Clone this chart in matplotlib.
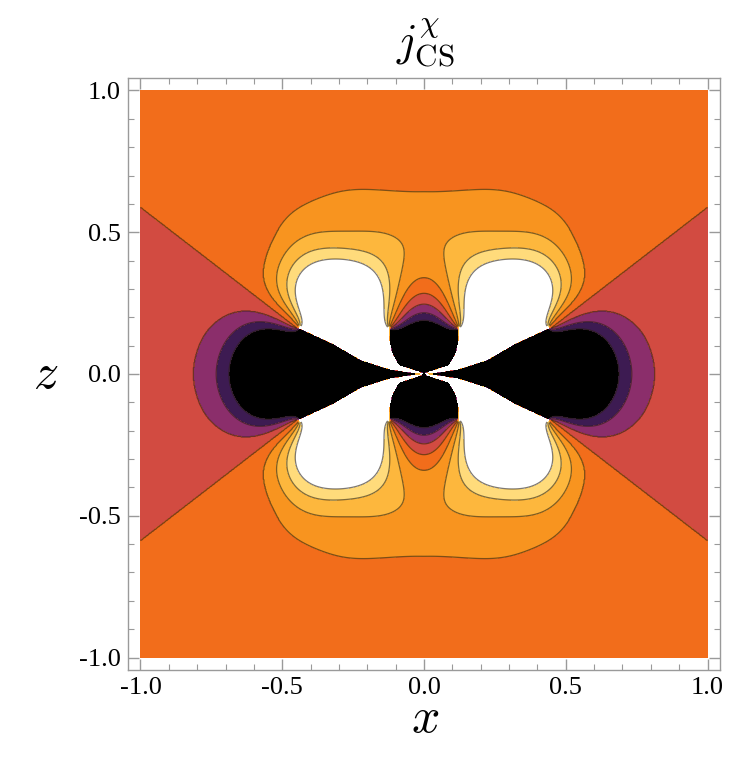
import numpy as np
import matplotlib
matplotlib.use("Agg")
import matplotlib.pyplot as plt

plt.rcParams["mathtext.fontset"] = "cm"
plt.rcParams["font.family"] = ["Liberation Serif", "DejaVu Serif"]
plt.rcParams["contour.negative_linestyle"] = "solid"

# contour values and the band colours between them
levels = [-3, -2, -1, 0, 1, 2, 3, 4]
band_colors = ["#000000", "#3d1b52", "#8b2e6b", "#d24b41", "#f26d1b",
               "#f8941f", "#fdb73d", "#ffdb7b", "#ffffff"]

# points where all contours meet (first quadrant) and the cuts ending there
p1 = (0.44, 0.163)
p2 = (0.123, 0.160)
cut1 = [(0.0, 0.0), (0.12, 0.018), (0.22, 0.05), (0.32, 0.108), p1]
cut2 = [(0.0, 0.0), (0.09, 0.03), (0.115, 0.075), (0.123, 0.118), p2]
# straight zero line of the outer wedge: |z| = wedge_slope * |x| + wedge_icpt
wedge_slope = 0.772
wedge_icpt = -0.184

# samples, first quadrant
lev_m3_x = [0.688, 0.678, 0.655, 0.61, 0.55, 0.49, 0.00, 0.07]
lev_m3_z = [0.000, 0.060, 0.110, 0.148, 0.163, 0.166, 0.186, 0.181]
lev_m2_x = [0.729, 0.718, 0.69, 0.64, 0.58, 0.50, 0.00, 0.07]
lev_m2_z = [0.000, 0.070, 0.125, 0.163, 0.177, 0.175, 0.212, 0.197]
lev_m1_x = [0.819, 0.805, 0.765, 0.70, 0.62, 0.53, 0.00, 0.07]
lev_m1_z = [0.000, 0.090, 0.160, 0.205, 0.212, 0.195, 0.237, 0.218]
lev_0_x = [1.00, 0.95, 0.90, 0.85, 0.80, 0.75, 0.70, 0.65, 0.60, 0.56, 0.52, 0.00, 0.07]
lev_0_z = [0.588, 0.550, 0.511, 0.472, 0.434, 0.395, 0.356, 0.318, 0.279, 0.248, 0.217, 0.273, 0.247]
lev_1_x = [0.00, 0.05, 0.10, 0.15, 0.208, 0.30, 0.36, 0.42, 0.477, 0.52, 0.547, 0.556,
           0.561, 0.555, 0.541, 0.503, 0.00, 0.07]
lev_1_z = [0.647, 0.647, 0.647, 0.647, 0.647, 0.635, 0.612, 0.585, 0.541, 0.50, 0.447,
           0.41, 0.377, 0.31, 0.259, 0.220, 0.327, 0.285]
lev_2_x = [0.469, 0.506, 0.51, 0.50, 0.47, 0.418, 0.35, 0.278, 0.16, 0.114, 0.08, 0.091, 0.105]
lev_2_z = [0.220, 0.306, 0.36, 0.412, 0.46, 0.489, 0.505, 0.509, 0.495, 0.471, 0.401, 0.306, 0.23]
lev_3_x = [0.459, 0.477, 0.48, 0.466, 0.43, 0.39, 0.302, 0.25, 0.20, 0.161, 0.132, 0.125]
lev_3_z = [0.220, 0.306, 0.35, 0.388, 0.42, 0.435, 0.441, 0.44, 0.430, 0.412, 0.306, 0.23]
lev_4_x = [0.451, 0.454, 0.45, 0.43, 0.40, 0.36, 0.31, 0.267, 0.21, 0.173, 0.138, 0.128]
lev_4_z = [0.220, 0.283, 0.33, 0.365, 0.39, 0.400, 0.40, 0.400, 0.395, 0.365, 0.259, 0.20]

# points inside the bands
orange_x = [0.0, 0.0, 0.3, 0.3, 0.6, 0.6, 0.85, 1.0, 1.0, 0.8, 0.66, 0.0, 0.45,
            0.15, 1.0, 1.0, 0.9, 0.8, 0.7, 0.45, 0.2, 0.0, 0.5, 0.15, 0.9, 0.75,
            0.62, 0.85, 0.8, 0.9, 0.7, 0.6, 0.3, 0.0, 0.1]
orange_z = [0.8, 1.0, 0.75, 1.0, 0.72, 1.0, 0.72, 0.8, 1.0, 0.58, 0.42, 0.30, 0.9,
            0.85, 0.7, 0.9, 1.0, 0.85, 0.6, 0.75, 0.72, 0.7, 1.0, 1.0, 0.75, 0.5,
            0.55, 0.65, 0.75, 0.6, 0.45, 0.4, 0.9, 0.68, 0.69]
red_x = [1.0, 0.9, 1.0, 0.9, 0.85, 0.95, 0.7, 1.0, 1.0, 1.0, 1.0, 0.95, 0.85, 0.8,
         0.9, 0.75, 0.87, 0.84, 0.65, 0.6]
red_z = [0.0, 0.0, 0.3, 0.25, 0.35, 0.45, 0.28, 0.1, 0.2, 0.4, 0.5, 0.15, 0.15, 0.25,
         0.4, 0.32, 0.0, 0.1, 0.26, 0.24]
purple_x = [0.775, 0.74, 0.68, 0.77]
purple_z = [0.0, 0.14, 0.195, 0.08]
dpurple_x = [0.708, 0.69, 0.62]
dpurple_z = [0.0, 0.10, 0.17]
lorange_x = [0.0, 0.0, 0.15, 0.4, 0.53, 0.04, 0.3, 0.52, 0.0, 0.1]
lorange_z = [0.45, 0.56, 0.58, 0.56, 0.35, 0.38, 0.6, 0.45, 0.62, 0.61]
yorange_x = [0.35, 0.49, 0.135, 0.44]
yorange_z = [0.47, 0.35, 0.44, 0.45]
lyellow_x = [0.455, 0.3]
lyellow_z = [0.33, 0.42]
white_x = [0.3, 0.38, 0.2, 0.3, 0.17, 0.42, 0.15]
white_z = [0.3, 0.3, 0.3, 0.14, 0.2, 0.25, 0.05]
black_x = [0.5, 0.6, 0.3, 0.0, 0.4, 0.05, 0.15, 0.1, 0.22, 0.0, 0.05]
black_z = [0.0, 0.08, 0.05, 0.12, 0.1, 0.08, 0.0, 0.005, 0.02, 0.05, 0.12]

contours = [(-3, lev_m3_x, lev_m3_z, 1.5), (-2, lev_m2_x, lev_m2_z, 1.5),
            (-1, lev_m1_x, lev_m1_z, 1.5), (0, lev_0_x, lev_0_z, 2.0),
            (1, lev_1_x, lev_1_z, 1.5), (2, lev_2_x, lev_2_z, 1.5),
            (3, lev_3_x, lev_3_z, 1.5), (4, lev_4_x, lev_4_z, 1.5)]
bands = [(0.5, orange_x, orange_z, 0.8), (-0.5, red_x, red_z, 0.8),
         (-1.5, purple_x, purple_z, 0.8), (-2.5, dpurple_x, dpurple_z, 0.8),
         (1.5, lorange_x, lorange_z, 0.8), (2.5, yorange_x, yorange_z, 0.8),
         (3.5, lyellow_x, lyellow_z, 0.8), (4.8, white_x, white_z, 0.3),
         (-3.8, black_x, black_z, 0.3)]

# centres of the smooth bumps used in the fit
bump_cx = [0.0, 0.15, 0.3, 0.45, 0.6, 0.75, 0.9]
bump_cz = [0.0, 0.15, 0.3, 0.45, 0.6, 0.75]
bump_w = 0.135

MIRRORS = [(1, 1, 1), (1, -1, -1), (-1, 1, -1), (-1, -1, 1)]


def seg_angle(x, z, a, b):
    # arg((w - b) / (w - a)), jumps by 2 pi across the segment a-b
    ux, uz = x - b[0], z - b[1]
    vx, vz = x - a[0], z - a[1]
    return np.arctan2(uz * vx - ux * vz, ux * vx + uz * vz)


def cut_field(x, z, pts):
    out = np.zeros_like(x, dtype=float)
    for sx, sz, sgn in MIRRORS:
        q = [(sx * u, sz * v) for u, v in pts]
        for a, b in zip(q[:-1], q[1:]):
            out += sgn * seg_angle(x, z, a, b)
    return out


def bump(x, z, cx, cz):
    out = np.zeros_like(x, dtype=float)
    for sx, sz in {(1, 1), (1, -1), (-1, 1), (-1, -1)}:
        if (sx < 0 and cx == 0) or (sz < 0 and cz == 0):
            continue
        out += np.exp(-((x - sx * cx)**2 + (z - sz * cz)**2) / (2 * bump_w**2))
    return out


def wedge(x, z):
    return np.sqrt(z**2 + 1e-4) - wedge_slope * np.sqrt(x**2 + 1e-4) - wedge_icpt


def basis(x, z):
    cols = [cut_field(x, z, cut1), cut_field(x, z, cut2), np.ones_like(x), wedge(x, z)]
    for cx in bump_cx:
        for cz in bump_cz:
            if np.hypot(cx, cz) < 0.2:
                continue
            cols.append(bump(x, z, cx, cz))
    return cols


# fit the field to the sampled contours
px, pz, tv, wt = [], [], [], []
for val, xs_, zs_, w in contours + bands:
    px += xs_; pz += zs_; tv += [val] * len(xs_); wt += [w] * len(xs_)
px, pz, tv, wt = map(np.array, (px, pz, tv, wt))

A = np.stack(basis(px, pz), axis=1)
scale = np.abs(A).max(axis=0)
An = A / scale
lam = 2e-3
M = np.vstack([An * wt[:, None], np.sqrt(lam) * np.eye(An.shape[1])])
rhs = np.concatenate([tv * wt, np.zeros(An.shape[1])])
coef = np.linalg.lstsq(M, rhs, rcond=None)[0] / scale

n = 901
g = np.linspace(-1, 1, n)
GX, GZ = np.meshgrid(g, g)
F = np.zeros_like(GX)
for c, b in zip(coef, basis(GX, GZ)):
    F += c * b

# outer wedge: between the -1 and +1 contours only the sign of the wedge line counts
outer = (np.abs(GZ) < np.abs(GX)) & (np.hypot(GX, GZ) > 0.47) & (np.abs(F) < 1)
F = np.where(outer, np.where(wedge(GX, GZ) > 0, 0.5, -0.5), F)


def seg_dist(x, z, a, b):
    dx, dz = b[0] - a[0], b[1] - a[1]
    t = np.clip(((x - a[0]) * dx + (z - a[1]) * dz) / (dx * dx + dz * dz), 0, 1)
    return np.hypot(x - a[0] - t * dx, z - a[1] - t * dz)


d = np.full_like(GX, np.inf)
for pts in (cut1, cut2):
    for sx, sz, _ in MIRRORS:
        q = [(sx * u, sz * v) for u, v in pts]
        for a, b in zip(q[:-1], q[1:]):
            d = np.minimum(d, seg_dist(GX, GZ, a, b))
F_lines = np.where(d < 0.007, np.nan, F)

fig = plt.figure(figsize=(7.29, 7.66), dpi=100)
ax = fig.add_axes([128 / 729, 1 - 670 / 766, 592 / 729, 592 / 766])

bounds = [min(F.min(), -1e3) - 1] + levels + [max(F.max(), 1e3) + 1]
ax.contourf(GX, GZ, F, levels=bounds, colors=band_colors)
ax.contour(GX, GZ, F_lines, levels=levels, colors="#2a2010",
           linewidths=0.9, alpha=0.6, linestyles="solid")

tick_vals = [-1.0, -0.5, 0.0, 0.5, 1.0]
tick_text = ["-1.0", "-0.5", "0.0", "0.5", "1.0"]
minor_vals = [i / 10 for i in range(-10, 11)]

ax.set_xlim(-1.044, 1.044)
ax.set_ylim(-1.044, 1.044)
ax.set_xticks(tick_vals)
ax.set_xticklabels(tick_text)
ax.set_yticks(tick_vals)
ax.set_yticklabels(tick_text)
ax.set_xticks(minor_vals, minor=True)
ax.set_yticks(minor_vals, minor=True)
ax.tick_params(which="both", direction="in", top=True, right=True,
               color="#9a9a9a", labelsize=19, pad=5)
ax.tick_params(which="major", length=8, width=1)
ax.tick_params(which="minor", length=4, width=0.8)
for s in ax.spines.values():
    s.set_color("#9a9a9a")
    s.set_linewidth(1.0)

fig.text(0.583, 0.943, r"$j^{\chi}_{\mathrm{CS}}$", ha="center", va="center", fontsize=32)
fig.text(0.583, 0.06, r"$x$", ha="center", va="center", fontsize=36)
fig.text(0.062, 0.51, r"$z$", ha="center", va="center", fontsize=36)

fig.savefig("out.png", dpi=100)
